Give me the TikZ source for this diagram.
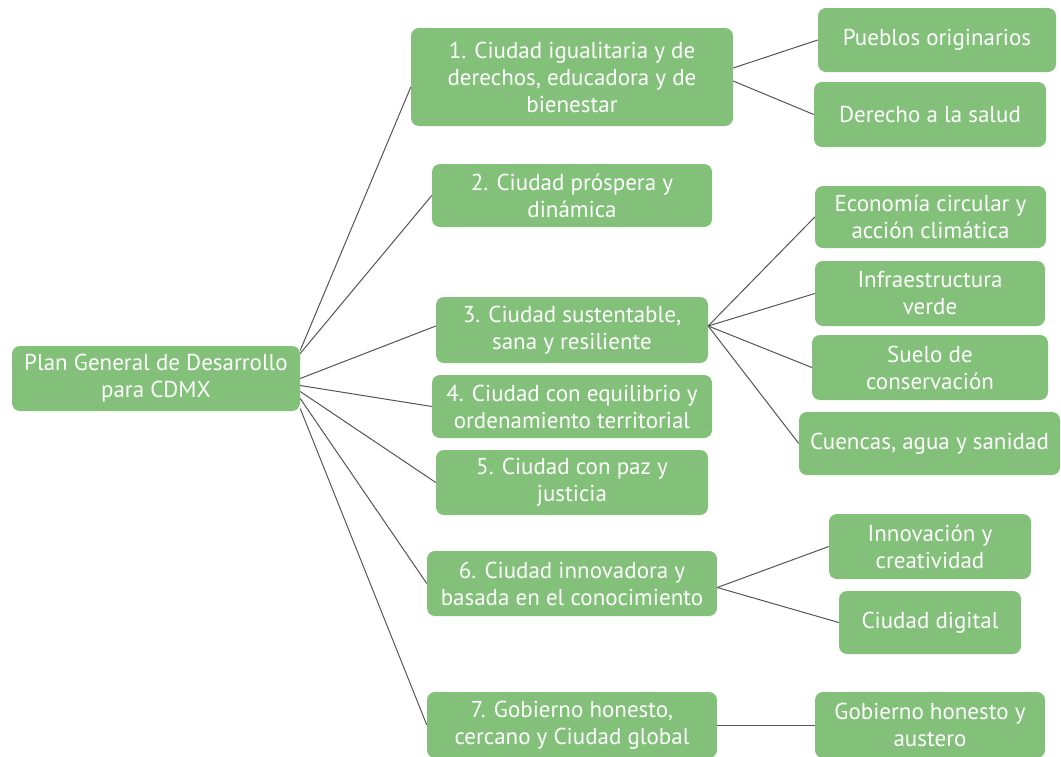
\documentclass[tikz,border=0pt]{standalone}
\usepackage{fontspec}
\setmainfont{PT Sans}
\definecolor{boxgreen}{RGB}{131,193,122}
\definecolor{linegray}{RGB}{85,85,85}
\begin{document}
\begin{tikzpicture}[x=1pt,y=-1pt,
  box/.style={fill=boxgreen,rounded corners=8pt,text=white,align=center,
    inner sep=0pt,font=\fontsize{23}{27}\selectfont},
  link/.style={draw=linegray,line width=1pt}]
\useasboundingbox (0,0) rectangle (1061,756);
\clip (0,0) rectangle (1061,756);
\fill[white] (0,0) rectangle (1061,756);
% root
\node[box,minimum width=288pt,minimum height=65pt] (root) at (156,378.5) {Plan General de Desarrollo\\para CDMX};
% branches
\node[box,minimum width=322pt,minimum height=98pt] (b1) at (572,77) {1. Ciudad igualitaria y de\\derechos, educadora y de\\bienestar};
\node[box,minimum width=280pt,minimum height=63pt] (b2) at (572,195.5) {2. Ciudad próspera y\\dinámica};
\node[box,minimum width=272pt,minimum height=66pt] (b3) at (572,330) {3. Ciudad sustentable,\\sana y resiliente};
\node[box,minimum width=280pt,minimum height=63pt] (b4) at (572,406.5) {4. Ciudad con equilibrio y\\ordenamiento territorial};
\node[box,minimum width=272pt,minimum height=65pt] (b5) at (572,482.5) {5. Ciudad con paz y\\justicia};
\node[box,minimum width=290pt,minimum height=65pt] (b6) at (572,583.5) {6. Ciudad innovadora y\\basada en el conocimiento};
\node[box,minimum width=290pt,minimum height=66pt] (b7) at (572,725) {7. Gobierno honesto,\\cercano y Ciudad global};
% leaves
\node[box,minimum width=238pt,minimum height=64pt] (l1a) at (937,40) {Pueblos originarios};
\node[box,minimum width=232pt,minimum height=65pt] (l1b) at (930,114.5) {Derecho a la salud};
\node[box,minimum width=231pt,minimum height=62pt] (l3a) at (930.5,217) {Economía circular y\\acción climática};
\node[box,minimum width=230pt,minimum height=65pt] (l3b) at (930,293.5) {Infraestructura\\verde};
\node[box,minimum width=236pt,minimum height=65pt] (l3c) at (930,367.5) {Suelo de\\conservación};
\node[box,minimum width=261pt,minimum height=63pt] (l3d) at (929.5,443.5) {Cuencas, agua y sanidad};
\node[box,minimum width=202pt,minimum height=65pt] (l6a) at (930,546.5) {Innovación y\\creatividad};
\node[box,minimum width=182pt,minimum height=63pt] (l6b) at (930,622.5) {Ciudad digital};
\node[box,minimum width=230pt,minimum height=66pt] (l7a) at (930,725) {Gobierno honesto y\\austero};
% connectors root -> branches
\draw[link] ([yshift=28pt]root.east) -- ([yshift=-10pt]b1.west);
\draw[link] ([yshift=25pt]root.east) -- (b2.west);
\draw[link] ([yshift=0pt]root.east) -- ([yshift=4pt]b3.west);
\draw[link] ([yshift=-7pt]root.east) -- (b4.west);
\draw[link] ([yshift=-13pt]root.east) -- (b5.west);
\draw[link] ([yshift=-20pt]root.east) -- (b6.west);
\draw[link] ([yshift=-30pt]root.east) -- (b7.west);
% branch 1 leaves
\draw[link] ([yshift=9pt]b1.east) -- (l1a.west);
\draw[link] ([yshift=-4pt]b1.east) -- (l1b.west);
% branch 3 leaves
\draw[link] ([yshift=4pt]b3.east) -- (l3a.west);
\draw[link] ([yshift=4pt]b3.east) -- (l3b.west);
\draw[link] ([yshift=4pt]b3.east) -- (l3c.west);
\draw[link] ([yshift=4pt]b3.east) -- (l3d.west);
% branch 6 leaves
\draw[link] ([yshift=-4pt]b6.east) -- (l6a.west);
\draw[link] ([yshift=-4pt]b6.east) -- (l6b.west);
% branch 7 leaf
\draw[link] (b7.east) -- (l7a.west);
\end{tikzpicture}
\end{document}
